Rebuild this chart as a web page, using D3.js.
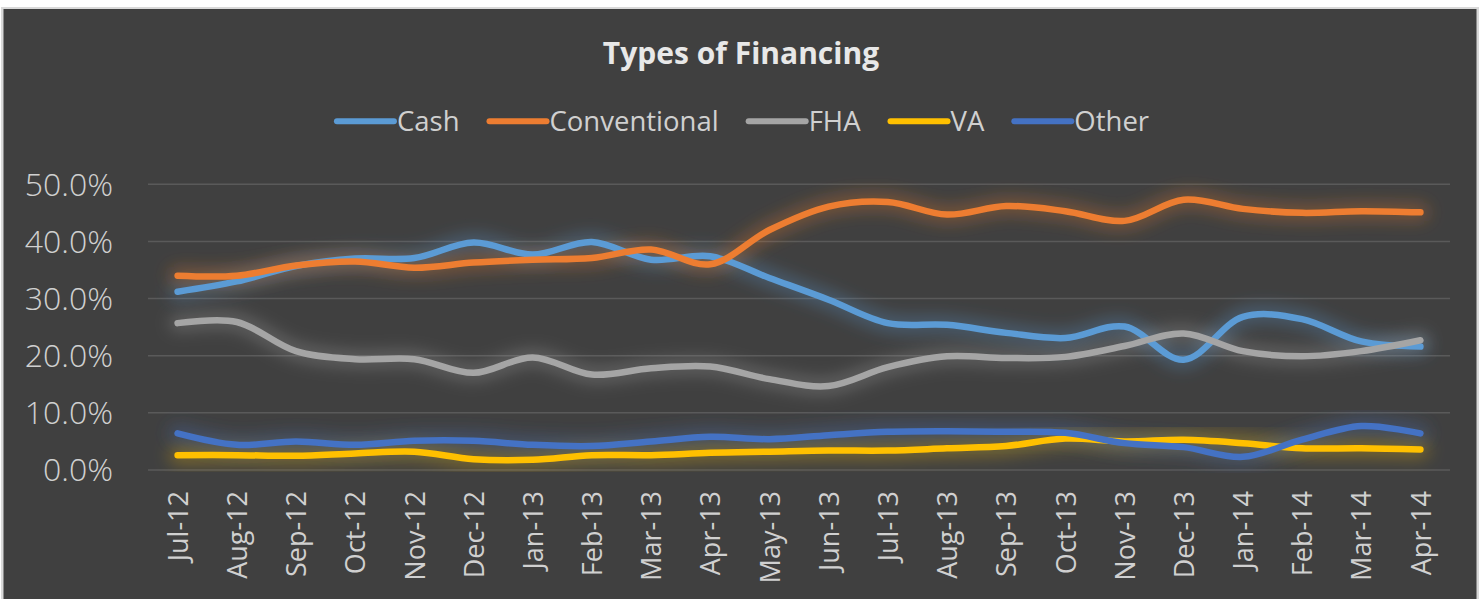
<!DOCTYPE html>
<html>
<head>
<meta charset="utf-8">
<script src="https://cdn.jsdelivr.net/npm/d3@7"></script>
<style>
  html, body { margin: 0; padding: 0; background: #ffffff; }
  svg { display: block; }
  text { font-family: "Open Sans", "Noto Sans", sans-serif; }
</style>
</head>
<body>
<svg id="chart" width="1480" height="599"></svg>
<script>
// ---- data ----
const months = ["Jul-12","Aug-12","Sep-12","Oct-12","Nov-12","Dec-12","Jan-13","Feb-13","Mar-13","Apr-13","May-13","Jun-13","Jul-13","Aug-13","Sep-13","Oct-13","Nov-13","Dec-13","Jan-14","Feb-14","Mar-14","Apr-14"];
const cash         = [31.2, 33.0, 35.7, 37.0, 37.1, 39.8, 37.7, 39.9, 36.8, 37.4, 33.6, 29.8, 25.7, 25.4, 24.0, 23.1, 25.1, 19.3, 26.8, 26.4, 22.5, 21.6];
const conventional = [34.0, 34.0, 35.8, 36.5, 35.4, 36.3, 36.8, 37.1, 38.6, 36.0, 42.0, 46.1, 46.9, 44.7, 46.2, 45.3, 43.6, 47.3, 45.7, 45.0, 45.3, 45.1];
const fha          = [25.7, 25.9, 20.8, 19.4, 19.4, 17.0, 19.7, 16.7, 17.8, 18.1, 15.9, 14.7, 18.0, 19.9, 19.6, 19.8, 21.7, 23.9, 20.8, 19.9, 20.8, 22.7];
const va           = [2.6, 2.6, 2.5, 2.9, 3.2, 1.9, 1.8, 2.6, 2.6, 3.0, 3.2, 3.4, 3.4, 3.8, 4.2, 5.5, 5.0, 5.3, 4.7, 3.8, 3.8, 3.6];
const other        = [6.4, 4.4, 5.0, 4.4, 5.1, 5.1, 4.4, 4.2, 5.0, 5.8, 5.4, 6.1, 6.7, 6.8, 6.7, 6.5, 4.7, 4.0, 2.3, 5.3, 7.7, 6.4];
const seriesNames  = ["Cash", "Conventional", "FHA", "VA", "Other"];
const seriesColors = ["#5B9BD5", "#ED7D31", "#A5A5A5", "#FFC000", "#4472C4"];
const yTicks       = [0, 10, 20, 30, 40, 50];
const title        = "Types of Financing";

const seriesValues = [cash, conventional, fha, va, other];
const series = seriesNames.map((n, i) => ({ name: n, color: seriesColors[i], values: seriesValues[i] }));

// ---- layout ----
const W = 1480, H = 599;
const plot = { left: 148, right: 1450, top: 184.3, bottom: 470 };

const svg = d3.select("#chart");

// frame
svg.append("rect").attr("x", 0).attr("y", 0).attr("width", W).attr("height", H).attr("fill", "#ffffff");
svg.append("rect").attr("x", 1).attr("y", 7).attr("width", W - 2).attr("height", H).attr("fill", "#d9d9d9");
svg.append("rect").attr("x", 3.5).attr("y", 9).attr("width", 1473).attr("height", H).attr("fill", "#404040");

const defs = svg.append("defs");
const glow = defs.append("filter").attr("id", "glow")
  .attr("x", "-10%").attr("y", "-50%").attr("width", "120%").attr("height", "200%");
glow.append("feGaussianBlur").attr("stdDeviation", 8);

// scales
const x = d3.scalePoint().domain(months).range([plot.left, plot.right]).padding(0.5);
const y = d3.scaleLinear().domain([0, 50]).range([plot.bottom, plot.top]);

// gridlines
svg.append("g").selectAll("line").data(yTicks).join("line")
  .attr("x1", plot.left).attr("x2", plot.right)
  .attr("y1", d => y(d)).attr("y2", d => y(d))
  .attr("stroke", "#5a5a5a").attr("stroke-width", 1.5);

// y axis labels
const yAxis = d3.axisLeft(y).tickValues(yTicks).tickFormat(d => d3.format(".1f")(d) + "%").tickSize(0).tickPadding(0);
const yg = svg.append("g").attr("transform", `translate(113,0)`).call(yAxis);
yg.select(".domain").remove();
yg.selectAll("text")
  .attr("fill", "#d0d0d0").attr("font-size", 32).attr("font-weight", 300)
  .attr("font-family", "Open Sans, sans-serif")
  .attr("dy", "0.34em").attr("x", 0);

// x axis labels
const xAxis = d3.axisBottom(x).tickSize(0).tickPadding(0);
const xg = svg.append("g").attr("transform", `translate(0,491)`).call(xAxis);
xg.select(".domain").remove();
xg.selectAll("text")
  .attr("fill", "#d0d0d0").attr("font-size", 27).attr("font-family", "Open Sans, sans-serif")
  .attr("text-anchor", "end")
  .attr("transform", "rotate(-90)")
  .attr("x", 0).attr("y", 0).attr("dy", "0.36em");

// lines
const line = d3.line()
  .x((d, i) => x(months[i]))
  .y(d => y(d))
  .curve(d3.curveCatmullRom.alpha(0.5));

const lg = svg.append("g");
series.forEach(s => {
  lg.append("path").datum(s.values)
    .attr("d", line).attr("fill", "none")
    .attr("stroke", s.color).attr("stroke-width", 18).attr("stroke-opacity", 0.3)
    .attr("stroke-linecap", "round").attr("stroke-linejoin", "round")
    .attr("filter", "url(#glow)");
});
series.forEach(s => {
  lg.append("path").datum(s.values)
    .attr("d", line).attr("fill", "none")
    .attr("stroke", s.color).attr("stroke-width", 6.5)
    .attr("stroke-linecap", "round").attr("stroke-linejoin", "round");
});

// title
svg.append("text").attr("x", 741).attr("y", 63.5)
  .attr("text-anchor", "middle").attr("font-size", 30).attr("font-weight", 700)
  .attr("fill", "#e8e8e8").text(title);

// legend
const leg = svg.append("g");
const items = leg.selectAll("g").data(series).join("g");
items.append("line").attr("x1", 0).attr("x2", 57).attr("y1", 121.3).attr("y2", 121.3)
  .attr("stroke", d => d.color).attr("stroke-width", 6).attr("stroke-linecap", "round");
items.append("text").attr("x", 60).attr("y", 130.5)
  .attr("font-size", 27.5).attr("fill", "#d0d0d0").text(d => d.name);
let cx = 0;
const offs = [];
items.each(function(d, i) {
  const tw = d3.select(this).select("text").node().getComputedTextLength();
  offs.push(cx);
  cx += 60 + tw + 30;
});
const total = cx - 30;
const startX = 743 - total / 2;
items.attr("transform", (d, i) => `translate(${startX + offs[i]},0)`);
</script>
</body>
</html>
